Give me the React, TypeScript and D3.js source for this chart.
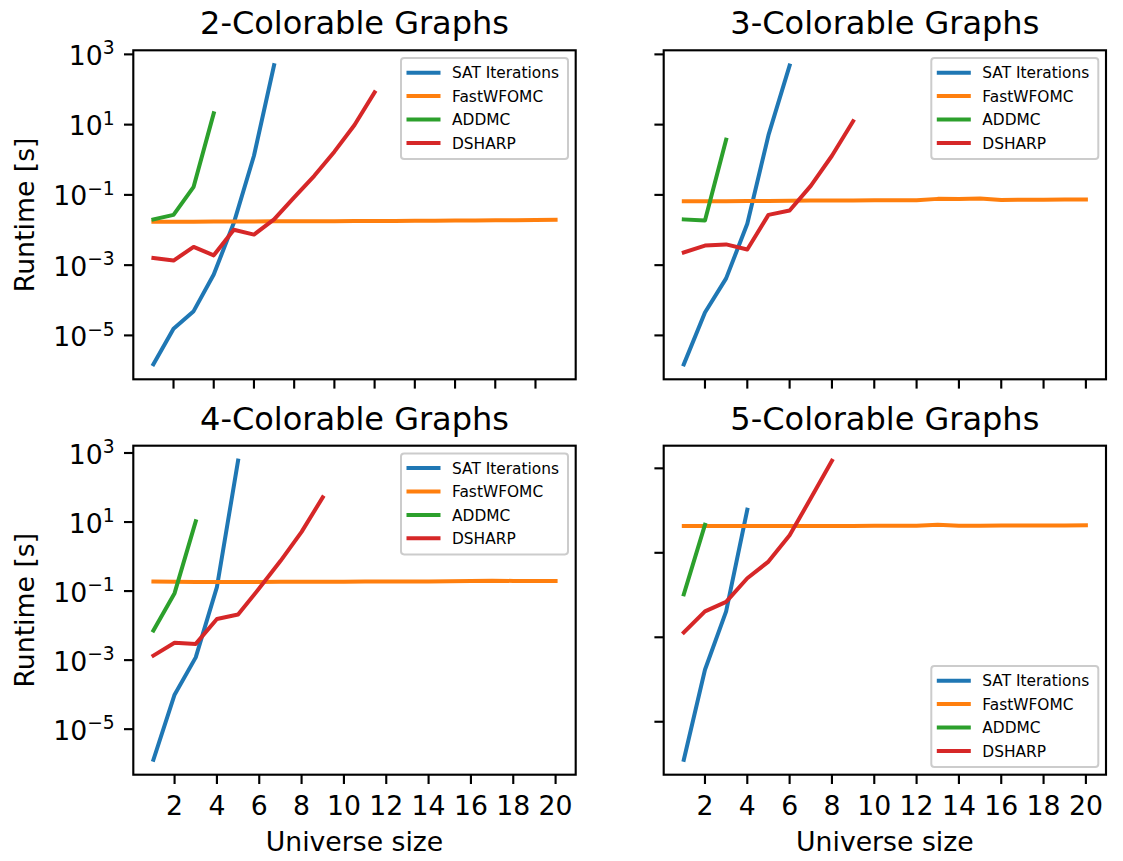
import React from "react";
import * as d3 from "d3";

// ---------- data ----------
const universeSizes = [1, 2, 3, 4, 5, 6, 7, 8, 9, 10, 11, 12, 13, 14, 15, 16, 17, 18, 19, 20, 21];
const xTickValues = [2, 4, 6, 8, 10, 12, 14, 16, 18, 20];
const yTickExponents = [-5, -3, -1, 1, 3];
const seriesNames = ["SAT Iterations", "FastWFOMC", "ADDMC", "DSHARP"];
const panelTitles = ["2-Colorable Graphs", "3-Colorable Graphs", "4-Colorable Graphs", "5-Colorable Graphs"];

// 2-colorable
const sat2 = [1.5e-6, 1.55e-5, 4.9e-5, 5.4e-4, 0.016, 1.3, 490];
const fast2 = [0.0172, 0.0172, 0.0173, 0.0174, 0.0175, 0.0176, 0.0177, 0.0177, 0.0178, 0.0179, 0.018, 0.0181, 0.0182, 0.0183, 0.0185, 0.0186, 0.0188, 0.0189, 0.0191, 0.0193, 0.0195];
const addmc2 = [0.02, 0.027, 0.17, 21];
const dsharp2 = [1.6e-3, 1.35e-3, 3.3e-3, 1.9e-3, 0.0102, 0.0074, 0.02, 0.085, 0.35, 1.7, 9.8, 83];

// 3-colorable
const sat3 = [1.5e-6, 4.5e-5, 4.2e-4, 0.015, 5, 480];
const fast3 = [0.066, 0.066, 0.066, 0.067, 0.067, 0.068, 0.069, 0.069, 0.069, 0.07, 0.07, 0.07, 0.077, 0.076, 0.079, 0.072, 0.073, 0.073, 0.074, 0.074];
const addmc3 = [0.02, 0.0186, 3.7];
const dsharp3 = [2.3e-3, 3.6e-3, 3.9e-3, 2.8e-3, 0.027, 0.036, 0.18, 1.3, 12.5];

// 4-colorable
const sat4 = [1.3e-6, 1.0e-4, 1.2e-3, 0.13, 600];
const fast4 = [0.19, 0.185, 0.183, 0.183, 0.184, 0.184, 0.185, 0.185, 0.186, 0.187, 0.188, 0.19, 0.19, 0.191, 0.192, 0.196, 0.2, 0.197, 0.195, 0.195];
const addmc4 = [7.2e-3, 0.087, 10.5];
const dsharp4 = [1.35e-3, 3.2e-3, 2.95e-3, 0.0155, 0.021, 0.12, 0.74, 5.2, 52];

// 5-colorable
const sat5 = [1.26e-6, 1.7e-4, 4.1e-3, 1.05];
const fast5 = [0.43, 0.43, 0.43, 0.432, 0.432, 0.433, 0.434, 0.434, 0.433, 0.44, 0.44, 0.44, 0.46, 0.44, 0.44, 0.442, 0.443, 0.443, 0.445, 0.45];
const addmc5 = [0.0104, 0.46];
const dsharp5 = [1.3e-3, 4.1e-3, 6.9e-3, 0.025, 0.062, 0.26, 1.95, 15.2];

// ---------- styling ----------
const W = 1123;
const H = 861;
const FONT = "'DejaVu Sans', sans-serif";
const BASE = 26.7;
const TITLE = 32;
const LEG = 15.4;
const COLORS = ["#1f77b4", "#ff7f0e", "#2ca02c", "#d62728"];
const SPINE = 2.13;
const TICK = 9.3;
const LW = 4;

const cols = [
  { x0: 133.3, x1: 575.7 },
  { x0: 663.7, x1: 1106 },
];
const rows = [
  { y0: 50.3, y1: 379.3 },
  { y0: 445.7, y1: 774.7 },
];

type PanelDef = {
  title: string;
  set: number;
  col: number;
  row: number;
  yLabels: boolean;
  xLabels: boolean;
  legend: "upper" | "lower";
  domainGroup: number[];
};

const seriesSets = [
  [sat2, fast2, addmc2, dsharp2],
  [sat3, fast3, addmc3, dsharp3],
  [sat4, fast4, addmc4, dsharp4],
  [sat5, fast5, addmc5, dsharp5],
];

const panels: PanelDef[] = [
  { title: panelTitles[0], set: 0, col: 0, row: 0, yLabels: true, xLabels: false, legend: "upper", domainGroup: [0, 1] },
  { title: panelTitles[1], set: 1, col: 1, row: 0, yLabels: false, xLabels: false, legend: "upper", domainGroup: [0, 1] },
  { title: panelTitles[2], set: 2, col: 0, row: 1, yLabels: true, xLabels: true, legend: "upper", domainGroup: [2] },
  { title: panelTitles[3], set: 3, col: 1, row: 1, yLabels: false, xLabels: true, legend: "lower", domainGroup: [3] },
];

function logDomain(groups: number[]): [number, number] {
  const all: number[] = [];
  groups.forEach((g) => seriesSets[g].forEach((s) => s.forEach((v) => all.push(Math.log10(v)))));
  const lo = d3.min(all) as number;
  const hi = d3.max(all) as number;
  const m = (hi - lo) * 0.05;
  return [Math.pow(10, lo - m), Math.pow(10, hi + m)];
}

function xDomain(set: number): [number, number] {
  const n = d3.max(seriesSets[set], (s) => s.length) as number;
  const xs = universeSizes.slice(0, n);
  const [lo, hi] = d3.extent(xs) as [number, number];
  const m = (hi - lo) * 0.05;
  return [lo - m, hi + m];
}

function supText(e: number) {
  return e < 0 ? "\u2212" + Math.abs(e) : String(e);
}

function Panel({ p }: { p: PanelDef }) {
  const c = cols[p.col];
  const r = rows[p.row];
  const series = seriesSets[p.set];
  const x = d3.scaleLinear().domain(xDomain(p.set)).range([c.x0, c.x1]);
  const y = d3.scaleLog().domain(logDomain(p.domainGroup)).range([r.y1, r.y0]);
  const [dLo, dHi] = y.domain();
  const yTicks = yTickExponents.map((e) => Math.pow(10, e)).filter((v) => v >= dLo && v <= dHi);
  const line = d3
    .line<number>()
    .x((_, i) => x(universeSizes[i]))
    .y((v) => y(v));

  const legW = 167;
  const legH = 101;
  const legX = c.x1 - 7.7 - legW;
  const legY = p.legend === "upper" ? r.y0 + 7.7 : r.y1 - 7.7 - legH;
  const rowOffsets = [14.7, 38.1, 61.5, 84.9];

  return (
    <g>
      <text x={(c.x0 + c.x1) / 2} y={r.y0 - 16} textAnchor="middle" fontSize={TITLE} fontFamily={FONT} fill="#000">
        {p.title}
      </text>
      {series.map((s, i) => (
        <path
          key={i}
          d={line(s) || ""}
          fill="none"
          stroke={COLORS[i]}
          strokeWidth={LW}
          strokeLinejoin="round"
          strokeLinecap="square"
        />
      ))}
      <rect x={c.x0} y={r.y0} width={c.x1 - c.x0} height={r.y1 - r.y0} fill="none" stroke="#000" strokeWidth={SPINE} />
      {yTicks.map((v) => {
        const e = Math.round(Math.log10(v));
        const yy = y(v);
        return (
          <g key={"y" + e}>
            <line x1={c.x0 - TICK} x2={c.x0} y1={yy} y2={yy} stroke="#000" strokeWidth={SPINE} />
            {p.yLabels && (
              <text x={c.x0 - TICK - 9.3} y={yy + 10.6} textAnchor="end" fontSize={BASE} fontFamily={FONT} fill="#000">
                10
                <tspan fontSize={18.7} dy={-10.5}>
                  {supText(e)}
                </tspan>
              </text>
            )}
          </g>
        );
      })}
      {xTickValues.map((t) => {
        const xx = x(t);
        return (
          <g key={"x" + t}>
            <line x1={xx} x2={xx} y1={r.y1} y2={r.y1 + TICK} stroke="#000" strokeWidth={SPINE} />
            {p.xLabels && (
              <text x={xx} y={r.y1 + 40.3} textAnchor="middle" fontSize={BASE} fontFamily={FONT} fill="#000">
                {t}
              </text>
            )}
          </g>
        );
      })}
      {p.xLabels && (
        <text x={(c.x0 + c.x1) / 2} y={851} textAnchor="middle" fontSize={BASE} fontFamily={FONT} fill="#000">
          Universe size
        </text>
      )}
      {p.yLabels && (
        <text
          transform={`translate(33.5, ${(r.y0 + r.y1) / 2}) rotate(-90)`}
          textAnchor="middle"
          fontSize={BASE}
          fontFamily={FONT}
          fill="#000"
        >
          Runtime [s]
        </text>
      )}
      <g transform={`translate(${legX}, ${legY})`}>
        <rect x={0} y={0} width={legW} height={legH} rx={3.1} ry={3.1} fill="#fff" fillOpacity={0.8} stroke="#cccccc" strokeWidth={2} />
        {seriesNames.map((n, i) => (
          <g key={n} transform={`translate(0, ${rowOffsets[i]})`}>
            <line x1={7.5} x2={37.5} y1={0} y2={0} stroke={COLORS[i]} strokeWidth={LW} strokeLinecap="square" />
            <text x={51} y={5.6} fontSize={LEG} fontFamily={FONT} fill="#000">
              {n}
            </text>
          </g>
        ))}
      </g>
    </g>
  );
}

export default function App() {
  return (
    <svg
      width={W}
      height={H}
      viewBox={`0 0 ${W} ${H}`}
      style={{ position: "absolute", left: 0, top: 0, display: "block", background: "#fff" }}
    >
      <rect x={0} y={0} width={W} height={H} fill="#fff" />
      {panels.map((p, i) => (
        <Panel key={i} p={p} />
      ))}
    </svg>
  );
}
